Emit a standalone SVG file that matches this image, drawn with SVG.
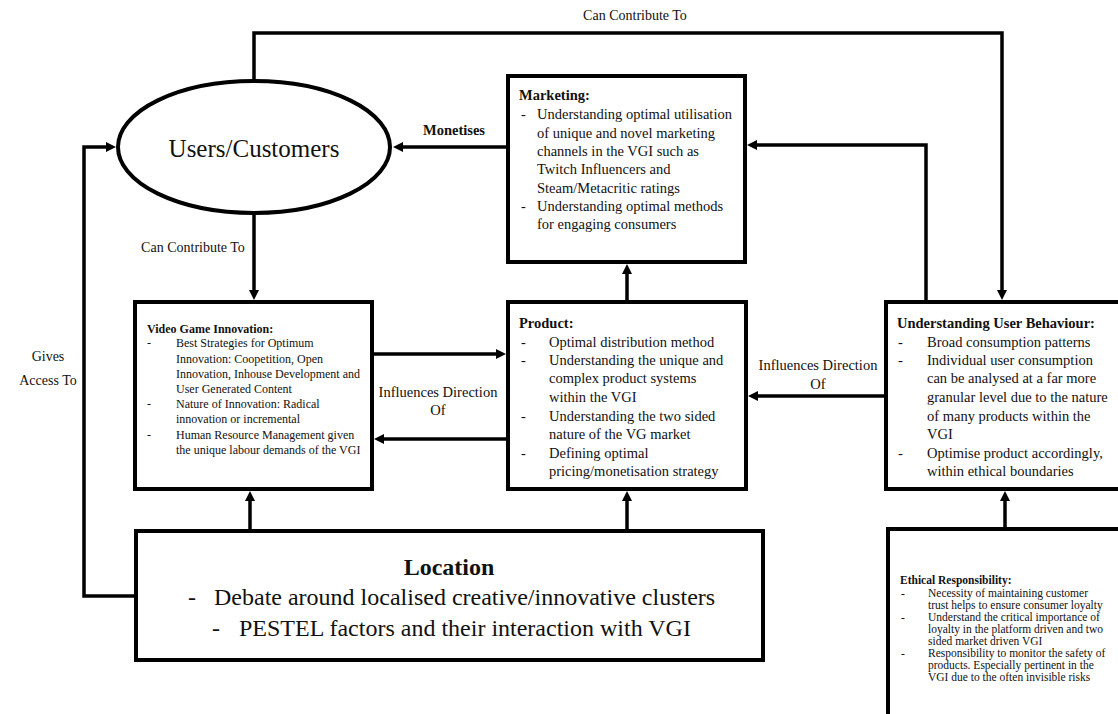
<svg xmlns="http://www.w3.org/2000/svg" width="1118" height="714" viewBox="0 0 1118 714" font-family="'Liberation Serif', 'Times New Roman', serif">
<style>
text{font-family:"Liberation Serif","Times New Roman",serif;fill:#111}
.box{fill:#fff;stroke:#000;stroke-width:4}
.con{fill:none;stroke:#000;stroke-width:3.5}
.b{font-weight:bold}
.m{font-size:14.5px}
.s{font-size:12px}
.e{font-size:11.5px}
.lbl{font-size:14px}
.big{font-size:24px}
.uc{font-size:25px}
</style>
<defs>
<marker id="ah" markerUnits="userSpaceOnUse" markerWidth="11" markerHeight="11" refX="3" refY="5" orient="auto">
<path d="M0,0 L10,5 L0,10 z" fill="#000"/>
</marker>
</defs>
<rect width="1118" height="714" fill="#fff"/>

<g id="connectors">
<path class="con" d="M254,80 V33 H1002 V293" marker-end="url(#ah)"/>
<path class="con" d="M254,213 V293" marker-end="url(#ah)"/>
<path class="con" d="M506,147 H400" marker-end="url(#ah)"/>
<path class="con" d="M926,300 V145 H754" marker-end="url(#ah)"/>
<path class="con" d="M627,300 V271" marker-end="url(#ah)"/>
<path class="con" d="M374,354 H499" marker-end="url(#ah)"/>
<path class="con" d="M506,439 H381" marker-end="url(#ah)"/>
<path class="con" d="M884,396 H755" marker-end="url(#ah)"/>
<path class="con" d="M250,529 V498" marker-end="url(#ah)"/>
<path class="con" d="M627,529 V498" marker-end="url(#ah)"/>
<path class="con" d="M1005,527 V498" marker-end="url(#ah)"/>
<path class="con" d="M134,596 H84 V147 H109" marker-end="url(#ah)"/>
<text class="lbl" x="635" y="20" text-anchor="middle">Can Contribute To</text>
<text class="lbl" x="193" y="252" text-anchor="middle">Can Contribute To</text>
<text class="m b" x="454" y="135" text-anchor="middle">Monetises</text>
<text class="m" x="438" y="397" text-anchor="middle">Influences Direction</text>
<text class="m" x="438" y="415" text-anchor="middle">Of</text>
<text class="m" x="818" y="370" text-anchor="middle">Influences Direction</text>
<text class="m" x="818" y="389" text-anchor="middle">Of</text>
<text class="lbl" x="48" y="361" text-anchor="middle">Gives</text>
<text class="lbl" x="48" y="385" text-anchor="middle">Access To</text>
</g>

<g id="users">
<ellipse cx="254" cy="147" rx="136" ry="66" fill="#fff" stroke="#000" stroke-width="4"/>
<text class="uc" x="254" y="157" text-anchor="middle">Users/Customers</text>
</g>

<g id="marketing">
<rect class="box" x="508" y="76" width="237" height="186"/>
<text class="m b" x="519" y="100">Marketing:</text>
<text class="m"><tspan x="521" y="119">-</tspan><tspan x="521" y="211">-</tspan></text>
<text class="m"><tspan x="537" y="119">Understanding optimal utilisation</tspan><tspan x="537" y="137.5">of unique and novel marketing</tspan><tspan x="537" y="156">channels in the VGI such as</tspan><tspan x="537" y="174">Twitch Influencers and</tspan><tspan x="537" y="192.5">Steam/Metacritic ratings</tspan><tspan x="537" y="211">Understanding optimal methods</tspan><tspan x="537" y="229">for engaging consumers</tspan></text>
</g>

<g id="innovation">
<rect class="box" x="135" y="302" width="237" height="187"/>
<text class="s b" x="147" y="333">Video Game Innovation:</text>
<text class="s"><tspan x="147" y="347">-</tspan><tspan x="147" y="408">-</tspan><tspan x="147" y="438.5">-</tspan></text>
<text class="s"><tspan x="176" y="347">Best Strategies for Optimum</tspan><tspan x="176" y="362.5">Innovation: Coopetition, Open</tspan><tspan x="176" y="378">Innovation, Inhouse Development and</tspan><tspan x="176" y="393">User Generated Content</tspan><tspan x="176" y="408">Nature of Innovation: Radical</tspan><tspan x="176" y="423">innovation or incremental</tspan><tspan x="176" y="438.5">Human Resource Management given</tspan><tspan x="176" y="454">the unique labour demands of the VGI</tspan></text>
</g>

<g id="product">
<rect class="box" x="508" y="302" width="238" height="187"/>
<text class="m b" x="519" y="328">Product:</text>
<text class="m"><tspan x="521" y="347">-</tspan><tspan x="521" y="365">-</tspan><tspan x="521" y="421">-</tspan><tspan x="521" y="458">-</tspan></text>
<text class="m"><tspan x="549" y="347">Optimal distribution method</tspan><tspan x="549" y="365">Understanding the unique and</tspan><tspan x="549" y="383">complex product systems</tspan><tspan x="549" y="402">within the VGI</tspan><tspan x="549" y="421">Understanding the two sided</tspan><tspan x="549" y="439">nature of the VG market</tspan><tspan x="549" y="458">Defining optimal</tspan><tspan x="549" y="476">pricing/monetisation strategy</tspan></text>
</g>

<g id="userbehaviour">
<rect class="box" x="886" y="302" width="244" height="187"/>
<text class="m b" x="897" y="328">Understanding User Behaviour:</text>
<text class="m"><tspan x="898" y="347">-</tspan><tspan x="898" y="365">-</tspan><tspan x="898" y="458">-</tspan></text>
<text class="m"><tspan x="927" y="347">Broad consumption patterns</tspan><tspan x="927" y="365">Individual user consumption</tspan><tspan x="927" y="383">can be analysed at a far more</tspan><tspan x="927" y="402">granular level due to the nature</tspan><tspan x="927" y="421">of many products within the</tspan><tspan x="927" y="439">VGI</tspan><tspan x="927" y="458">Optimise product accordingly,</tspan><tspan x="927" y="476">within ethical boundaries</tspan></text>
</g>

<g id="location">
<rect class="box" x="136" y="531" width="627" height="129"/>
<text class="big b" x="449" y="575" text-anchor="middle">Location</text>
<text class="big"><tspan x="188" y="605">-</tspan><tspan x="212" y="636">-</tspan></text>
<text class="big"><tspan x="214" y="605">Debate around localised creative/innovative clusters</tspan><tspan x="239" y="636">PESTEL factors and their interaction with VGI</tspan></text>
</g>

<g id="ethical">
<rect class="box" x="888" y="529" width="244" height="200"/>
<text class="e b" x="900" y="584">Ethical Responsibility:</text>
<text class="e"><tspan x="901" y="596.5">-</tspan><tspan x="901" y="620.5">-</tspan><tspan x="901" y="656.5">-</tspan></text>
<text class="e"><tspan x="928" y="596.5">Necessity of maintaining customer</tspan><tspan x="928" y="608.5">trust helps to ensure consumer loyalty</tspan><tspan x="928" y="620.5">Understand the critical importance of</tspan><tspan x="928" y="632.5">loyalty in the platform driven and two</tspan><tspan x="928" y="644.5">sided market driven VGI</tspan><tspan x="928" y="656.5">Responsibility to monitor the safety of</tspan><tspan x="928" y="668.5">products. Especially pertinent in the</tspan><tspan x="928" y="680.5">VGI due to the often invisible risks</tspan></text>
</g>
</svg>
